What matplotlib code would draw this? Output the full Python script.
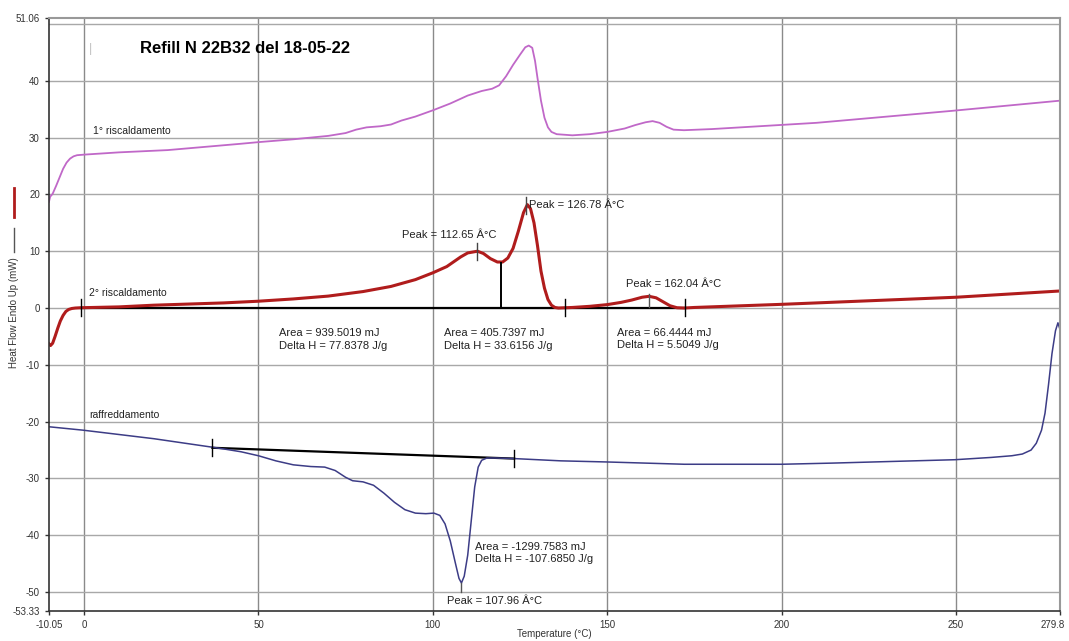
import matplotlib.pyplot as plt
import matplotlib.transforms as mtransforms
from matplotlib.lines import Line2D

plt.rcParams['font.family'] = ['Liberation Sans', 'DejaVu Sans']

# 1st heating (pink)
t1 = [-10.05, -9.7, -9, -8, -7, -6, -5, -4, -3, -2, 0, 10, 24, 44.7, 50, 60, 70, 75, 78, 81, 85, 88,
      91, 95, 100, 105, 110, 114, 117, 119, 121, 123, 125, 126.5, 127.5, 128.5, 129.3, 130, 131, 132,
      133, 134, 135.5, 140, 145, 150, 155, 158, 161, 163, 165, 167, 169, 172, 180, 210, 248.7, 279.8]
h1 = [18.7, 19.6, 20.1, 21.5, 23.0, 24.5, 25.6, 26.3, 26.7, 26.9, 27.0, 27.4, 27.8, 28.9, 29.2, 29.7,
      30.3, 30.8, 31.4, 31.8, 32.0, 32.3, 33.0, 33.7, 34.8, 36.0, 37.4, 38.2, 38.6, 39.2, 40.8, 42.8,
      44.6, 45.9, 46.2, 45.8, 43.5, 40.5, 36.5, 33.5, 31.8, 31.0, 30.6, 30.4, 30.6, 31.0, 31.6, 32.2,
      32.7, 32.9, 32.6, 31.9, 31.4, 31.3, 31.5, 32.6, 34.7, 36.5]

# 2nd heating (red)
t2 = [-10.05, -9.6, -9, -8.3, -7.5, -6.8, -6, -5.2, -4.4, -3.5, -2.5, -1, 10, 20, 30, 40, 50, 60, 70,
      80, 88, 95, 100, 104, 108, 110, 112.8, 114.5, 116.5, 118.5, 120, 121.5, 123, 124.5, 126, 127.1,
      128, 129, 130, 131, 132, 133, 134, 135, 136, 140, 145, 150, 154, 157, 160, 162, 164, 166, 168,
      170, 172, 175, 200, 250, 279.8]
h2 = [-6.3, -6.6, -6.2, -5.0, -3.5, -2.3, -1.3, -0.6, -0.25, -0.08, 0.0, 0.05, 0.2, 0.5, 0.7, 0.9,
      1.2, 1.6, 2.1, 2.9, 3.8, 5.0, 6.2, 7.3, 9.0, 9.7, 10.0, 9.6, 8.7, 8.1, 8.1, 8.8, 10.5, 13.5, 16.8,
      18.2, 17.5, 15.0, 11.0, 6.5, 3.5, 1.5, 0.5, 0.1, 0.0, 0.1, 0.3, 0.6, 1.0, 1.4, 1.9, 2.06, 1.8,
      1.1, 0.4, 0.05, 0.0, 0.1, 0.65, 1.9, 3.0]

# cooling (blue)
t3 = [-10.05, -0.3, 20, 36.8, 40, 45, 50, 55, 60, 65, 69, 72, 75, 77, 80, 83, 86, 89, 92, 95, 98,
      100.3, 102, 103.5, 105, 106.5, 107.5, 108.2, 109, 110, 111, 112, 113, 114, 115.5, 118, 123.3,
      136.7, 150.1, 172.1, 200, 214.3, 249.7, 260, 266, 269, 271.5, 273, 274.5, 275.5, 276.5, 277.5,
      278.5, 279.2, 279.8]
h3 = [-20.9, -21.5, -23.0, -24.5, -24.8, -25.3, -26.0, -26.9, -27.6, -27.9, -28.0, -28.6, -29.8,
      -30.4, -30.6, -31.2, -32.6, -34.2, -35.5, -36.1, -36.2, -36.1, -36.5, -38.0, -41.0, -45.0, -47.6,
      -48.4, -47.2, -43.5, -37.5, -31.5, -28.0, -26.8, -26.4, -26.4, -26.5, -26.9, -27.1, -27.5, -27.5,
      -27.3, -26.7, -26.3, -26.0, -25.7, -25.0, -23.8, -21.5, -18.5, -13.5, -8.0, -4.0, -2.6, -3.8]

# integration limits
red_base = [-1.0, 119.6, 137.9, 172.3]
red_split_h = 7.9
blue_base_t = [36.8, 123.3]
blue_base_h = [-24.6, -26.5]
peak_t = [112.65, 126.78, 162.04, 107.96]

xticks = [-10.05, 0, 50, 100, 150, 200, 250, 279.8]
xticklabels = ['-10.05', '0', '50', '100', '150', '200', '250', '279.8']
yticks = [-53.33, -50, -40, -30, -20, -10, 0, 10, 20, 30, 40, 51.06]
yticklabels = ['-53.33', '-50', '-40', '-30', '-20', '-10', '0', '10', '20', '30', '40', '51.06']

fig = plt.figure(figsize=(10.69, 6.41), dpi=100)
ax = fig.add_axes([0.0458, 0.0468, 0.9458, 0.9252])

ax.set_xlim(-10.05, 279.8)
ax.set_ylim(-53.33, 51.06)

for v in [0, 50, 100, 150, 200, 250]:
    ax.axvline(v, color='#8a8a8a', lw=1, zorder=0)
for v in range(-50, 51, 10):
    ax.axhline(v, color='#a8a8a8', lw=1, zorder=0)

ax.plot(t1, h1, color='#c068c8', lw=1.3)
ax.plot(t2, h2, color='#b01c1c', lw=2.2)
ax.plot(t3, h3, color='#3c3c86', lw=1.1)

# baselines red
ax.plot([red_base[0], red_base[-1]], [0, 0], color='black', lw=1.6, zorder=1)
for b in [red_base[0], red_base[2], red_base[3]]:
    ax.plot([b, b], [-1.4, 1.6], color='black', lw=1)
ax.plot([red_base[1], red_base[1]], [0, red_split_h], color='black', lw=1.4)

# baseline blue
ax.plot(blue_base_t, blue_base_h, color='black', lw=1.6, zorder=1)
for bt, bh in zip(blue_base_t, blue_base_h):
    ax.plot([bt, bt], [bh - 1.5, bh + 1.5], color='black', lw=1)

# peak ticks
ax.plot([peak_t[0]] * 2, [8.5, 11.4], color='#444444', lw=1)
ax.plot([peak_t[1]] * 2, [16.6, 19.5], color='#444444', lw=1)
ax.plot([peak_t[2]] * 2, [0.2, 2.4], color='#555555', lw=1)
ax.plot([peak_t[3]] * 2, [-48.4, -50], color='#555555', lw=1)

fs = 8
tc = '#222222'
ax.text(16, 45.7, 'Refill N 22B32 del 18-05-22', fontsize=12, fontweight='bold', va='center')
ax.text(1.3, 45.6, '|', fontsize=9, color='#c0c0c0', va='center')
ax.text(2.5, 31.2, '1° riscaldamento', fontsize=7.5, color=tc, va='center')
ax.text(1.4, 2.6, '2° riscaldamento', fontsize=7.5, color=tc, va='center')
ax.text(1.4, -18.9, 'raffreddamento', fontsize=7.5, color=tc, va='center')

ax.text(56, -3.6, 'Area = 939.5019 mJ\nDelta H = 77.8378 J/g', fontsize=fs, color=tc, va='top',
        linespacing=1.3)
ax.text(103.2, -3.6, 'Area = 405.7397 mJ\nDelta H = 33.6156 J/g', fontsize=fs, color=tc, va='top',
        linespacing=1.3)
ax.text(152.8, -3.5, 'Area = 66.4444 mJ\nDelta H = 5.5049 J/g', fontsize=fs, color=tc, va='top',
        linespacing=1.3)
ax.text(112.1, -41.2, 'Area = -1299.7583 mJ\nDelta H = -107.6850 J/g', fontsize=fs, color=tc,
        va='top', linespacing=1.3)
ax.text(91.2, 12.8, 'Peak = 112.65 Â°C', fontsize=fs, color=tc, va='center')
ax.text(127.6, 18.1, 'Peak = 126.78 Â°C', fontsize=fs, color=tc, va='center')
ax.text(155.4, 4.3, 'Peak = 162.04 Â°C', fontsize=fs, color=tc, va='center')
ax.text(104.2, -51.5, 'Peak = 107.96 Â°C', fontsize=fs, color=tc, va='center')

ax.set_xticks(xticks)
ax.set_xticklabels(xticklabels)
ax.set_yticks(yticks)
ax.set_yticklabels(yticklabels)
ax.tick_params(labelsize=7, colors='#333333', length=3, width=1)

# keep the last x label inside the figure
last = ax.get_xticklabels()[-1]
last.set_transform(last.get_transform() + mtransforms.ScaledTranslation(-5 / 72, 0, fig.dpi_scale_trans))

for s in ['top', 'right']:
    ax.spines[s].set_color('#999999')
    ax.spines[s].set_linewidth(1.5)
for s in ['left', 'bottom']:
    ax.spines[s].set_color('#333333')
    ax.spines[s].set_linewidth(1.2)

fig.text(0.0135, 0.513, 'Heat Flow Endo Up (mW)', rotation=90, fontsize=7, color='#333333',
         ha='center', va='center')
fig.add_artist(Line2D([0.0135, 0.0135], [1 - 188 / 641, 1 - 217 / 641], color='#b01c1c', lw=2))
fig.add_artist(Line2D([0.0135, 0.0135], [1 - 228 / 641, 1 - 252 / 641], color='#555555', lw=1))
fig.text(0.519, 0.011, 'Temperature (°C)', fontsize=7, color='#333333', ha='center', va='center')

fig.savefig('out.png', dpi=100)
